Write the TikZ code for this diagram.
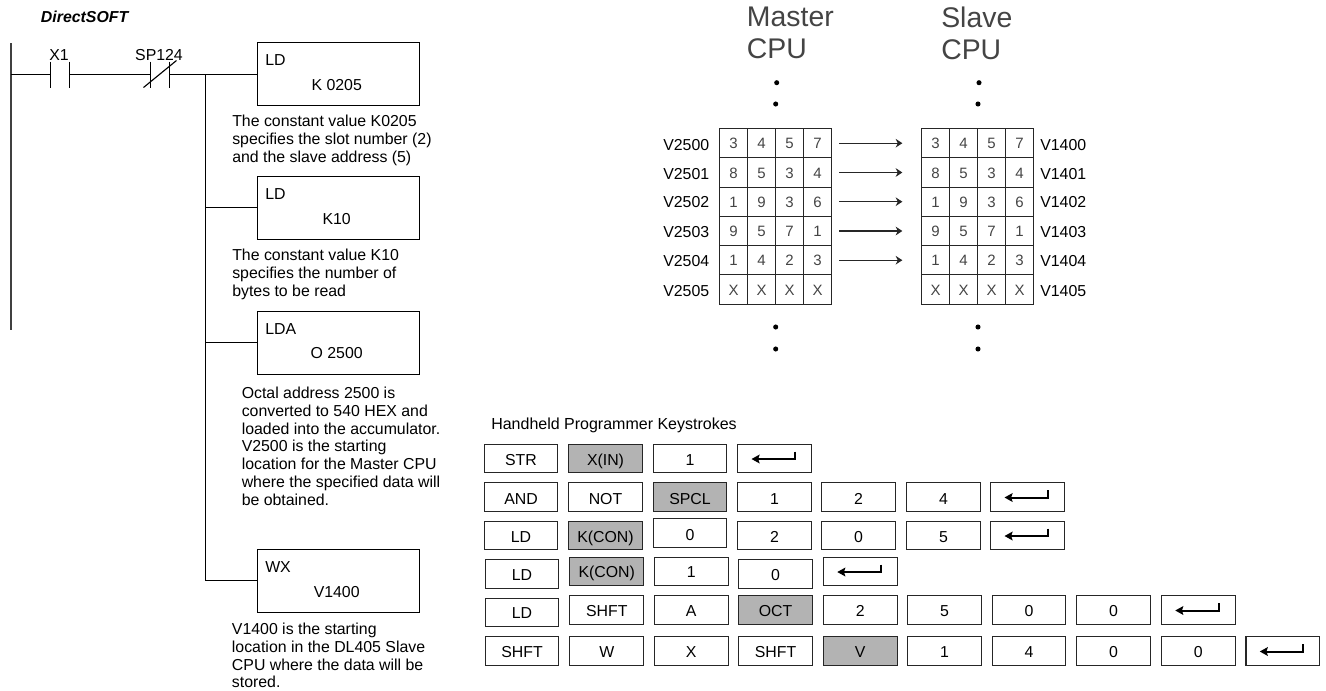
\documentclass[tikz,border=0pt]{standalone}
\usepackage{fontspec}
\setmainfont{Liberation Sans}
\usetikzlibrary{arrows.meta}
\definecolor{keygray}{HTML}{B3B3B3}
\definecolor{soft}{HTML}{444444}
\newcommand{\bodyfont}{\fontsize{11.9}{13.4}\selectfont}
\tikzset{
  x=0.75pt,y=-0.75pt,
  every node/.style={font=\bodyfont,text=black,inner sep=0pt},
  wire/.style={draw=black,line width=0.85pt},
  rail/.style={draw=black!75,line width=1.1pt},
  instr/.style={draw=black,line width=0.85pt,minimum width=121.5pt,minimum height=47.25pt,anchor=north west},
  note/.style={anchor=north west,align=left},
  keybox/.style={draw=black!85,line width=0.8pt,minimum width=55.2pt,minimum height=21.4pt,text height=9.4pt,text depth=0pt},
  graykey/.style={keybox,fill=keygray},
  plainkey/.style={keybox},
  grayup/.style={graykey,text height=10.7pt},
  plainup/.style={keybox,text height=10.7pt},
  cell/.style={draw=black!85,line width=0.75pt,minimum width=21pt,minimum height=21.95pt,anchor=center,text=soft,font=\fontsize{11.25}{13}\selectfont,text height=8.6pt,text depth=0pt},
  flow/.style={draw=black!85,line width=0.8pt,-{Stealth[length=5pt,width=6.5pt]},shorten <=5.6pt,shorten >=14pt},
  enter/.style={draw=black,line width=1.5pt,-{Stealth[length=6pt,width=6.5pt,inset=1pt]}},
  dotmark/.style={fill=black,draw=none,circle,minimum size=3.8pt},
  head/.style={anchor=north west,align=left,text=soft,font=\fontsize{21.3}{24}\selectfont}
}
\begin{document}
\begin{tikzpicture}
\useasboundingbox (0,0) rectangle (1326,690);
% ladder
\node[anchor=west,font=\bfseries\itshape\bodyfont] (title) at (40.7,17) {DirectSOFT};
\coordinate (railtop) at (11,43);
\coordinate (railbot) at (11,330);
\coordinate (railtap) at (11,74.5);
\draw[rail] (railtop) -- (railbot);
\coordinate (xa) at (50.5,74.5);
\coordinate (xb) at (69.5,74.5);
\coordinate (sa) at (150.5,74.5);
\coordinate (sb) at (169.5,74.5);
\coordinate (branch) at (205.5,74.5);
\coordinate (branchend) at (205.5,580.5);
\node (xlabel) at (59,55) {X1};
\node (splabel) at (159,55) {SP124};
\foreach \c in {xa,xb,sa,sb} \draw[wire] ([yshift=9.75pt]\c) -- ([yshift=-9.75pt]\c);
\draw[wire] ([shift={(-7,13)}]sa) -- ([shift={(7,-14)}]sb);
\draw[wire] (railtap) -- (xa);
\draw[wire] (xb) -- (sa);
\draw[wire] (branch) -- (branchend);
\node[instr] (b1) at (256.5,42) {};
\node[instr] (b2) at (256.5,175.5) {};
\node[instr] (b3) at (256.5,311) {};
\node[instr] (b4) at (256.5,549) {};
\draw[wire] (sb) -- (b1.west |- sb);
\draw[wire] (branch |- 0,207.5) -- (b2.west |- 0,207.5);
\draw[wire] (branch |- 0,342.5) -- (b3.west |- 0,342.5);
\draw[wire] (branchend) -- (b4.west |- branchend);
\node[anchor=west] (b1a) at (265,60) {LD};
\node (b1b) at (336.7,85) {K 0205};
\node[anchor=west] (b2a) at (265,194) {LD};
\node (b2b) at (336.7,218.7) {K10};
\node[anchor=west] (b3a) at (265,328.7) {LDA};
\node (b3b) at (336.7,353) {O 2500};
\node[anchor=west] (b4a) at (265,566.7) {WX};
\node (b4b) at (336.7,591.7) {V1400};
\node[note] (n1) at (232,115) {The constant value K0205\\specifies the slot number (2)\\and the slave address (5)};
\node[note] (n2) at (232,248.5) {The constant value K10\\specifies the number of\\bytes to be read};
\node[note] (n3) at (241.5,386.5) {Octal address 2500 is\\converted to 540 HEX and\\loaded into the accumulator.\\V2500 is the starting\\location for the Master CPU\\where the specified data will\\be obtained.};
\node[note] (n4) at (231.7,622.5) {V1400 is the starting\\location in the DL405 Slave\\CPU where the data will be\\stored.};
% headers
\node[head] (hm) at (746.7,7) {Master\\CPU};
\node[head] (hs) at (941,7) {Slave\\CPU};
% dots
\foreach \n/\x/\y in {d1/776.7/82.7,d2/775.7/104,d3/775.7/327,d4/775.7/349,d5/979/82.7,d6/978/104,d7/978/327,d8/978/349}
  \node[dotmark] (\n) at (\x,\y) {};
% grids
\foreach \r/\y/\a/\b/\c/\d in {0/143.2/3/4/5/7,1/172.5/8/5/3/4,2/201.7/1/9/3/6,3/231/9/5/7/1,4/260.2/1/4/2/3,5/289.5/X/X/X/X}{
  \node[cell] (m\r a) at (733.5,\y) {\a};
  \node[cell] (m\r b) at (761.5,\y) {\b};
  \node[cell] (m\r c) at (789.5,\y) {\c};
  \node[cell] (m\r d) at (817.5,\y) {\d};
  \node[cell] (s\r a) at (935.5,\y) {\a};
  \node[cell] (s\r b) at (963.5,\y) {\b};
  \node[cell] (s\r c) at (991.5,\y) {\c};
  \node[cell] (s\r d) at (1019.5,\y) {\d};
}
\foreach \r/\y/\t in {0/145/2500,1/174/2501,2/202.5/2502,3/232/2503,4/261.5/2504,5/291/2505}
  \node[anchor=west] (lm\r) at (663,\y) {V\t};
\foreach \r/\y/\t in {0/145/1400,1/174/1401,2/202.5/1402,3/232/1403,4/261.5/1404,5/291/1405}
  \node[anchor=west] (ls\r) at (1040,\y) {V\t};
\foreach \r in {0,...,4} \draw[flow] (m\r d.east) -- (s\r a.west);
% keystrokes
\node[anchor=west,font=\fontsize{12}{14}\selectfont] (hh) at (491,425) {Handheld Programmer Keystrokes};
\foreach \n/\x/\y/\s/\t in {
  a1/521/458.5/plainup/STR, a2/605.5/458.5/grayup/X(IN), a3/690/458.5/plainup/1,
  c1/521/497/plainup/AND, c2/605.5/497/plainup/NOT, c3/690/497/grayup/SPCL, c4/774.5/497/plainup/1, c5/858.5/497/plainup/2, c6/943.5/497/plainup/4,
  e1/521/535.5/plainup/LD, e2/605.5/535.5/grayup/K(CON), e3/690/533/plainup/0, e4/774.5/535.5/plainup/2, e5/858.5/535.5/plainup/0, e6/943.5/535.5/plainup/5,
  f1/522/574/plainkey/LD, f2/606.75/571.5/graykey/K(CON), f3/691.25/571.5/plainkey/1, f4/775.5/574/plainkey/0,
  g1/522/612.5/plainkey/LD, g2/606.75/610/plainkey/SHFT, g3/691.25/610/plainkey/A, g4/775.5/610/graykey/OCT, g5/860.25/610/plainkey/2, g6/944.5/610/plainkey/5, g7/1029/610/plainkey/0, g8/1113.5/610/plainkey/0,
  h1/522/651/plainkey/SHFT, h2/606.75/651/plainkey/W, h3/691.25/651/plainkey/X, h4/775.5/651/plainkey/SHFT, h5/860.25/651/graykey/V, h6/944.5/651/plainkey/1, h7/1029/651/plainkey/4, h8/1113.5/651/plainkey/0, h9/1198.25/651/plainkey/0}
  \node[\s] (\n) at (\x,\y) {\t};
\foreach \n/\x/\y in {a4/774.5/458.5,c7/1027.5/497,e7/1027.5/535.5,f5/860.25/571.5,g9/1198.25/610,h10/1282.75/651}{
  \node[keybox] (\n) at (\x,\y) {};
  \draw[enter] ([shift={(20.5,-7)}]\n.center) -- ([shift={(20.5,0.5)}]\n.center) -- ([shift={(-23,0.5)}]\n.center);
}
\end{tikzpicture}
\end{document}
